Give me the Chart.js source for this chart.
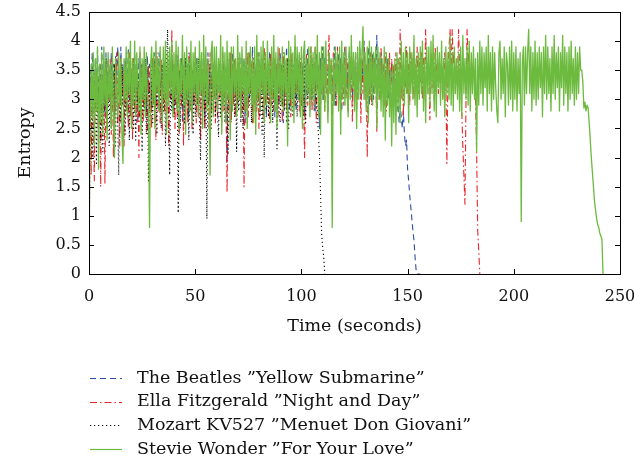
<!DOCTYPE html>
<html lang="en">
<head>
<meta charset="UTF-8">
<title>Entropy over time</title>
<script src="https://cdn.jsdelivr.net/npm/chart.js"></script>
<style>
    html, body {
        margin: 0;
        padding: 0;
        background: #ffffff;
    }
    .chart-box {
        width: 634px;
        height: 464px;
    }
</style>
</head>
<body>
<div class="chart-box"><canvas id="entropyChart"></canvas></div>
<script>
    // entropy values, one sample every half second
    // each row covers five seconds
    const beatles = [
        2.6, 3.5, 3.1, 3.8, 3.3, 2.8, 3.7, 3.2, 3.85, 2.9,
        3.6, 3.3, 3.9, 3.0, 3.5, 2.7, 3.8, 3.2, 3.7, 3.4,
        3.0, 3.8, 3.3, 3.6, 2.7, 3.75, 3.2, 3.9, 3.4, 3.0,
        3.9, 3.1, 3.6, 2.9, 3.7, 3.5, 3.2, 3.85, 3.0, 3.6,
        2.9, 3.7, 3.3, 3.8, 3.1, 3.6, 2.6, 3.7, 3.2, 3.5,
        3.6, 3.0, 3.7, 3.3, 2.8, 3.75, 3.1, 3.6, 3.4, 2.9,
        3.6, 3.2, 3.8, 2.9, 3.5, 3.3, 3.8, 3.1, 3.5, 2.7,
        3.7, 3.3, 3.6, 2.8, 3.7, 3.2, 3.5, 3.0, 3.75, 3.3,
        2.8, 3.6, 3.3, 3.75, 3.0, 3.5, 3.2, 3.7, 2.6, 3.6,
        3.3, 3.7, 3.0, 3.6, 2.7, 3.8, 3.3, 3.5, 2.9, 3.6,
        3.1, 3.7, 3.3, 2.7, 3.55, 3.2, 3.8, 3.0, 3.6, 2.5,
        3.6, 3.2, 3.8, 3.0, 3.5, 2.8, 3.7, 3.3, 3.6, 3.0,
        3.7, 2.8, 3.6, 3.3, 3.5, 3.0, 3.7, 3.2, 3.6, 2.9,
        1.9, 3.5, 3.2, 3.7, 2.7, 3.8, 3.1, 3.6, 3.3, 2.9,
        3.6, 3.1, 3.75, 2.9, 3.5, 3.3, 3.7, 2.6, 3.6, 3.2,
        3.5, 3.0, 3.7, 3.2, 3.9, 2.8, 3.6, 3.4, 3.5, 3.1,
        3.8, 2.8, 3.6, 3.3, 3.55, 3.0, 3.7, 2.7, 3.6, 3.2,
        3.8, 3.0, 3.55, 3.3, 3.7, 2.7, 3.6, 3.2, 3.7, 2.9,
        3.8, 3.3, 3.5, 2.6, 3.7, 3.1, 3.9, 3.3, 3.6, 2.8,
        3.7, 3.1, 3.6, 3.4, 3.9, 2.8, 3.6, 3.2, 3.75, 2.9,
        3.6, 3.4, 3.8, 2.7, 3.6, 3.1, 3.9, 3.3, 3.5, 3.0,
        3.7, 3.3, 3.5, 2.8, 3.8, 3.2, 3.6, 2.5, 3.7, 3.1,
        3.9, 3.0, 3.7, 3.3, 3.5, 2.8, 3.8, 3.2, 3.6, 3.4,
        3.1, 3.9, 2.9, 3.6, 3.4, 3.8, 3.0, 3.7, 2.8, 3.6,
        3.3, 3.9, 3.1, 3.6, 2.9, 3.8, 3.4, 3.6, 3.0, 3.7,
        3.2, 3.8, 2.8, 3.6, 3.3, 3.9, 3.0, 3.7, 3.3, 4.0,
        3.1, 3.6, 3.3, 3.9, 2.9, 3.7, 3.2, 3.8, 3.0, 3.7,
        3.3, 4.1, 3.2, 3.7, 3.0, 3.8, 3.4, 3.6, 3.1, 3.5,
        3.3, 3.7, 3.0, 3.5, 3.2, 3.6, 3.0, 3.4, 3.0, 2.8,
        2.8, 3.0, 2.6, 2.9, 2.7, 2.5, 2.8, 2.4, 2.2, 2.3,
        1.8, 1.6, 1.35, 1.15, 0.95, 0.75, 0.58, 0.3, 0.07, 0,
        0, 0, 0
    ];

    const ella = [
        2.5, 3.2, 1.7, 3.3, 2.6, 1.6, 3.5, 2.8, 3.4, 2.2,
        3.6, 1.5, 3.3, 2.7, 3.5, 1.55, 3.6, 2.5, 3.4, 2.9,
        3.7, 2.4, 3.5, 2.0, 3.6, 2.8, 3.8, 2.6, 3.4, 2.2,
        3.7, 2.9, 3.5, 2.2, 3.6, 2.8, 3.4, 2.5, 3.8, 2.7,
        3.5, 2.3, 3.7, 2.8, 3.5, 2.6, 3.3, 2.0, 3.8, 2.9,
        3.6, 2.6, 3.3, 2.9, 3.7, 2.4, 3.6, 2.8, 3.5, 2.5,
        3.7, 2.9, 3.6, 2.3, 3.8, 2.8, 3.5, 2.6, 3.7, 2.4,
        3.5, 2.8, 3.7, 2.6, 3.6, 2.2, 3.4, 3.0, 4.2, 2.9,
        3.6, 2.5, 3.8, 2.7, 3.5, 2.4, 3.7, 2.9, 3.6, 2.2,
        3.7, 3.0, 3.5, 2.6, 3.8, 2.8, 3.6, 2.5, 3.5, 2.9,
        3.8, 2.6, 3.5, 2.8, 3.7, 2.3, 3.6, 2.9, 3.8, 2.5,
        3.7, 2.9, 3.6, 2.5, 3.8, 2.7, 3.5, 3.0, 3.7, 2.6,
        3.5, 2.7, 3.7, 3.0, 3.6, 2.6, 3.8, 2.8, 3.4, 3.0,
        1.4, 3.4, 2.8, 3.8, 2.6, 3.6, 2.9, 3.7, 2.7, 3.5,
        2.9, 3.7, 3.0, 3.5, 2.7, 3.6, 1.5, 3.5, 2.8, 3.8,
        2.7, 3.8, 3.1, 3.6, 2.6, 3.7, 2.9, 3.5, 2.8, 3.8,
        2.5, 3.6, 3.0, 3.7, 2.7, 3.9, 2.9, 3.5, 3.0, 3.6,
        2.6, 3.8, 2.9, 3.5, 2.8, 3.7, 3.1, 3.6, 2.7, 3.9,
        3.0, 3.6, 2.6, 3.8, 2.9, 3.5, 2.8, 3.7, 3.1, 3.6,
        2.7, 3.8, 3.0, 3.5, 2.9, 3.7, 3.1, 3.6, 2.8, 3.7,
        2.9, 3.5, 3.0, 2.0, 3.5, 3.8, 2.9, 3.6, 3.2, 3.9,
        2.8, 3.6, 3.2, 3.9, 2.6, 3.7, 3.0, 3.6, 2.8, 3.8,
        3.0, 3.6, 2.8, 3.7, 3.1, 3.6, 4.1, 3.1, 3.7, 2.7,
        3.8, 3.2, 3.6, 2.9, 3.9, 3.0, 3.7, 2.8, 3.6, 3.3,
        2.9, 3.9, 3.0, 3.7, 2.8, 3.6, 3.3, 3.8, 2.6, 3.7,
        3.0, 3.8, 2.9, 3.6, 3.3, 3.8, 2.6, 3.7, 3.1, 3.9,
        3.0, 3.6, 2.0, 3.6, 3.1, 3.8, 2.9, 3.7, 3.3, 3.6,
        3.5, 2.45, 3.5, 3.7, 3.0, 3.9, 3.2, 3.6, 2.9, 3.8,
        2.8, 3.6, 3.2, 3.8, 2.9, 3.7, 3.3, 3.6, 3.0, 3.8,
        3.4, 3.7, 3.0, 4.2, 3.0, 3.6, 2.7, 3.5, 3.2, 3.9,
        3.1, 3.6, 2.9, 3.8, 3.3, 3.7, 3.0, 3.6, 3.4, 3.9,
        3.1, 3.7, 3.3, 3.8, 3.0, 3.7, 3.2, 4.2, 3.4, 3.6,
        3.3, 2.65, 3.8, 3.2, 3.6, 3.0, 3.9, 3.3, 3.7, 3.1,
        3.7, 3.3, 3.6, 3.0, 3.4, 3.8, 3.3, 1.9, 3.5, 3.9,
        4.2, 3.4, 4.2, 3.6, 3.8, 3.1, 3.6, 3.3, 4.2, 3.5,
        3.3, 2.8, 2.2, 1.7, 1.2, 3.0, 4.2, 3.6, 3.8, 3.4,
        3.6, 3.3, 3.5, 3.4, 3.0, 2.1, 0.75, 0.4, 0
    ];

    const mozart = [
        0, 2.4, 3.5, 2.0, 3.4, 2.7, 3.6, 1.9, 3.3, 2.6,
        3.6, 2.3, 3.5, 2.1, 3.3, 2.8, 3.7, 2.5, 3.4, 2.2,
        3.5, 2.5, 3.7, 2.9, 3.6, 2.2, 3.4, 2.7, 1.7, 3.4,
        2.6, 3.6, 2.9, 3.5, 2.4, 3.7, 2.8, 3.5, 2.3, 3.6,
        2.8, 3.7, 2.5, 3.4, 2.3, 3.6, 2.9, 3.4, 2.7, 3.6,
        2.1, 3.5, 2.8, 3.7, 2.4, 3.5, 1.6, 3.3, 2.7, 3.6,
        2.6, 3.7, 2.9, 3.5, 2.4, 3.6, 2.8, 3.5, 2.5, 3.6,
        2.8, 3.4, 2.2, 3.6, 4.2, 3.0, 1.7, 3.4, 2.8, 3.6,
        2.7, 3.5, 2.9, 3.6, 1.05, 3.5, 2.5, 3.7, 2.9, 3.4,
        2.6, 3.7, 2.9, 3.4, 2.3, 3.6, 2.8, 3.5, 2.4, 3.6,
        2.7, 3.5, 2.9, 3.7, 2.6, 1.95, 3.7, 2.8, 3.6, 2.6,
        3.4, 0.95, 3.4, 2.9, 3.6, 2.5, 3.5, 2.8, 3.6, 2.7,
        3.5, 2.8, 2.35, 3.6, 2.7, 3.4, 2.9, 3.6, 2.6, 3.4,
        2.8, 2.05, 3.7, 2.6, 3.5, 2.9, 3.6, 2.7, 3.5, 2.1,
        3.6, 2.8, 3.4, 2.6, 3.7, 2.5, 3.5, 2.9, 3.7, 2.6,
        3.5, 2.9, 3.6, 2.6, 3.7, 2.8, 3.5, 2.7, 3.6, 2.9,
        3.5, 2.7, 3.6, 2.4, 3.5, 2.0, 3.6, 2.8, 3.4, 2.7,
        3.4, 2.9, 3.7, 2.6, 3.5, 2.9, 3.6, 2.15, 3.5, 2.8,
        2.6, 3.6, 2.9, 3.6, 2.8, 3.5, 2.6, 3.7, 2.5, 3.7,
        3.0, 3.6, 2.7, 3.4, 2.9, 3.7, 2.7, 3.6, 3.0, 3.5,
        2.9, 3.5, 2.7, 3.7, 2.6, 3.7, 3.0, 3.5, 2.8, 3.4,
        3.0, 3.6, 2.8, 3.5, 3.0, 2.82, 2.4, 2.07, 1.39, 0.7,
        0.45, 0.3, 0
    ];

    const stevie = [
        0, 2.6, 3.6, 2.7, 3.8, 2.2, 3.7, 2.8, 3.9, 1.8,
        3.6, 2.6, 3.8, 2.4, 3.9, 2.9, 3.7, 2.3, 3.8, 3.0,
        3.6, 2.5, 3.9, 2.8, 2.0, 3.7, 3.1, 2.7, 3.8, 2.9,
        3.7, 2.4, 1.9, 3.7, 3.0, 3.9, 2.7, 3.8, 3.1, 4.0,
        2.5, 3.7, 2.9, 4.0, 2.7, 3.8, 3.2, 2.8, 3.9, 2.4,
        3.7, 3.0, 3.9, 2.7, 3.8, 3.1, 2.8, 0.8, 3.6, 3.9,
        2.9, 3.8, 2.5, 4.0, 3.1, 3.7, 2.8, 3.9, 3.2, 2.6,
        3.9, 3.0, 4.0, 2.4, 3.8, 2.9, 3.9, 3.1, 4.0, 2.7,
        3.8, 3.0, 4.0, 2.8, 3.9, 2.5, 3.7, 3.1, 4.1, 2.9,
        3.8, 2.4, 3.9, 3.0, 3.7, 2.8, 4.0, 2.6, 3.8, 3.1,
        3.9, 2.9, 3.7, 2.7, 4.0, 3.1, 3.8, 2.5, 4.1, 3.0,
        3.9, 2.8, 3.7, 3.1, 1.7, 3.8, 4.0, 2.7, 3.9, 3.0,
        3.9, 2.8, 3.7, 3.1, 4.1, 2.4, 3.9, 2.9, 3.8, 2.6,
        4.0, 3.0, 3.8, 2.3, 3.9, 2.8, 3.9, 3.1, 3.7, 2.7,
        4.1, 3.0, 3.8, 2.7, 3.9, 3.1, 3.7, 2.8, 4.0, 2.5,
        3.8, 3.1, 3.9, 2.9, 3.7, 2.6, 3.9, 2.4, 4.1, 3.0,
        3.8, 2.8, 3.9, 3.1, 4.0, 2.6, 3.8, 2.9, 4.0, 3.1,
        3.7, 2.6, 3.9, 3.0, 4.1, 2.8, 3.8, 2.5, 3.9, 3.1,
        3.7, 2.9, 3.9, 2.8, 3.8, 3.1, 3.7, 2.2, 4.0, 3.0,
        3.9, 2.8, 3.8, 2.6, 4.1, 3.1, 3.9, 3.0, 3.8, 2.7,
        3.9, 2.5, 3.8, 4.0, 2.9, 3.7, 3.1, 3.9, 2.7, 3.9,
        3.0, 3.8, 2.9, 3.9, 3.1, 4.1, 2.7, 3.8, 2.4, 3.9,
        3.0, 3.9, 2.8, 4.0, 3.2, 2.6, 3.8, 3.1, 3.7, 0.8,
        3.7, 2.9, 3.9, 3.1, 3.8, 2.8, 3.9, 2.4, 4.0, 3.0,
        3.8, 2.9, 3.9, 3.1, 2.7, 3.9, 3.0, 4.1, 3.2, 3.8,
        2.8, 3.8, 2.5, 3.9, 3.0, 4.0, 3.1, 3.8, 4.25, 3.0,
        3.8, 2.8, 3.9, 2.6, 4.0, 3.0, 3.9, 2.9, 3.8, 3.1,
        3.9, 2.5, 3.9, 3.0, 3.8, 2.8, 3.7, 2.7, 3.9, 2.3,
        3.8, 2.9, 3.7, 2.7, 3.5, 2.2, 3.6, 2.6, 3.7, 2.4,
        3.8, 2.8, 3.7, 2.6, 4.0, 3.0, 3.8, 2.9, 3.9, 3.1,
        3.8, 2.6, 3.9, 3.1, 3.8, 3.0, 4.1, 2.9, 3.7, 2.7,
        3.8, 3.0, 3.9, 3.1, 4.0, 2.8, 3.7, 2.6, 3.9, 3.1,
        3.9, 2.9, 4.0, 3.1, 4.1, 2.8, 3.8, 2.7, 3.9, 3.2,
        3.8, 2.9, 4.0, 3.0, 3.7, 2.7, 3.9, 3.1, 3.8, 3.0,
        4.1, 2.9, 3.8, 2.8, 3.9, 3.1, 3.7, 3.0, 3.8, 2.8,
        3.9, 2.7, 4.1, 3.1, 3.7, 3.0, 3.9, 2.9, 4.0, 2.8,
        3.8, 3.1, 3.9, 3.0, 3.7, 2.1, 3.8, 2.9, 4.0, 3.1,
        3.9, 2.9, 3.8, 3.2, 3.9, 2.8, 4.1, 3.1, 3.8, 2.8,
        3.9, 3.0, 3.8, 3.2, 2.8, 2.6, 3.8, 4.0, 3.0, 3.7,
        3.1, 3.9, 2.7, 3.8, 3.6, 2.9, 3.9, 3.0, 4.0, 2.8,
        3.8, 3.0, 3.9, 2.8, 3.7, 3.1, 3.8, 0.9, 3.6, 3.9,
        2.9, 3.9, 3.1, 3.8, 4.2, 3.1, 3.9, 2.8, 3.8, 3.0,
        4.0, 2.9, 3.8, 3.0, 3.9, 3.2, 3.8, 2.7, 3.9, 3.1,
        4.1, 3.0, 3.9, 3.1, 3.7, 2.8, 3.9, 3.1, 4.1, 3.0,
        3.8, 3.2, 3.9, 2.8, 3.8, 3.2, 4.1, 2.9, 3.9, 3.1,
        3.8, 2.8, 3.9, 3.0, 4.0, 3.1, 3.7, 2.9, 3.9, 3.0,
        3.8, 3.1, 3.9, 3.5, 3.5, 3.3, 2.85, 2.95, 2.8, 2.9,
        2.85, 2.6, 2.3, 2.0, 1.75, 1.5, 1.25, 1.1, 0.95, 0.85,
        0.8, 0.7, 0.65, 0.6, 0
    ];

    const songNames = [
        'The Beatles \u201DYellow Submarine\u201D',
        'Ella Fitzgerald \u201DNight and Day\u201D',
        'Mozart KV527 \u201DMenuet Don Giovani\u201D',
        'Stevie Wonder \u201DFor Your Love\u201D'
    ];
    const secondsPerSample = 0.5;

    const serif = "'DejaVu Serif', 'Liberation Serif', serif";
    Chart.defaults.font.family = serif;
    Chart.defaults.font.size = 16;
    Chart.defaults.color = '#111111';

    function toPoints(values) {
        return values.map((v, i) => ({ x: i * secondsPerSample, y: v }));
    }

    // box around the plot with inward tick marks on all four sides
    const frameTicks = {
        id: 'frameTicks',
        afterDraw(chart) {
            const { ctx, chartArea: a, scales } = chart;
            const len = 5;
            ctx.save();
            ctx.strokeStyle = '#000';
            ctx.lineWidth = 1;
            ctx.setLineDash([]);
            ctx.strokeRect(a.left + 0.5, a.top + 0.5, a.right - a.left, a.bottom - a.top);
            ctx.beginPath();
            scales.x.ticks.forEach(t => {
                const px = Math.round(scales.x.getPixelForValue(t.value)) + 0.5;
                ctx.moveTo(px, a.bottom); ctx.lineTo(px, a.bottom - len);
                ctx.moveTo(px, a.top); ctx.lineTo(px, a.top + len);
            });
            scales.y.ticks.forEach(t => {
                const py = Math.round(scales.y.getPixelForValue(t.value)) + 0.5;
                ctx.moveTo(a.left, py); ctx.lineTo(a.left + len, py);
                ctx.moveTo(a.right, py); ctx.lineTo(a.right - len, py);
            });
            ctx.stroke();
            ctx.restore();
        }
    };

    // legend stacked under the axis title, one song per row
    const stackedLegend = {
        id: 'stackedLegend',
        afterDraw(chart) {
            const { ctx, chartArea: a } = chart;
            const x0 = a.left + 1;
            const x1 = x0 + 32;
            const textX = x0 + 47;
            ctx.save();
            ctx.font = '17.5px ' + serif;
            ctx.textBaseline = 'middle';
            ctx.textAlign = 'left';
            chart.data.datasets.forEach((ds, i) => {
                const y = a.bottom + 104 + i * 23.7;
                ctx.strokeStyle = ds.borderColor;
                ctx.lineWidth = 1.2;
                ctx.setLineDash(ds.borderDash || []);
                ctx.beginPath();
                ctx.moveTo(x0, Math.round(y) + 0.5);
                ctx.lineTo(x1, Math.round(y) + 0.5);
                ctx.stroke();
                ctx.setLineDash([]);
                ctx.fillStyle = '#111111';
                ctx.fillText(ds.label, textX, y);
            });
            ctx.restore();
        }
    };

    const ctx = document.getElementById('entropyChart').getContext('2d');

    new Chart(ctx, {
        type: 'line',
        data: {
            datasets: [
                {
                    label: songNames[0],
                    data: toPoints(beatles),
                    borderColor: '#2d4da6',
                    borderWidth: 1.1,
                    borderDash: [6, 4],
                    order: 4
                },
                {
                    label: songNames[1],
                    data: toPoints(ella),
                    borderColor: '#e8252b',
                    borderWidth: 1.1,
                    borderDash: [7, 3, 1.5, 3],
                    order: 3
                },
                {
                    label: songNames[2],
                    data: toPoints(mozart),
                    borderColor: '#000000',
                    borderWidth: 1.1,
                    borderDash: [1.2, 2.8],
                    order: 2
                },
                {
                    label: songNames[3],
                    data: toPoints(stevie),
                    borderColor: '#6cba3e',
                    borderWidth: 1.3,
                    order: 1
                }
            ]
        },
        options: {
            responsive: true,
            maintainAspectRatio: false,
            animation: false,
            layout: {
                padding: { top: 12, right: 14, bottom: 127, left: 0 }
            },
            elements: {
                point: { radius: 0 },
                line: { tension: 0, borderJoinStyle: 'round', fill: false }
            },
            plugins: {
                legend: { display: false },
                tooltip: { enabled: false }
            },
            scales: {
                x: {
                    type: 'linear',
                    min: 0,
                    max: 250,
                    grid: { display: false, drawTicks: false },
                    border: { display: false },
                    ticks: { stepSize: 50, padding: 13, maxRotation: 0 },
                    title: {
                        display: true,
                        text: 'Time (seconds)',
                        font: { size: 17.5 },
                        padding: { top: 0, bottom: 0 }
                    },
                    afterFit(scale) {
                        scale.height = 63;
                        scale.paddingLeft = 0;
                        scale.paddingRight = 0;
                    }
                },
                y: {
                    min: 0,
                    max: 4.5,
                    grid: { display: false, drawTicks: false },
                    border: { display: false },
                    ticks: {
                        stepSize: 0.5,
                        padding: 8,
                        callback: value => String(value)
                    },
                    title: {
                        display: true,
                        text: 'Entropy',
                        font: { size: 17.5 },
                        padding: { top: 14.5, bottom: 0 }
                    },
                    afterFit(scale) {
                        scale.width = 89;
                        scale.paddingTop = 0;
                        scale.paddingBottom = 0;
                    }
                }
            }
        },
        plugins: [frameTicks, stackedLegend]
    });
</script>
</body>
</html>
